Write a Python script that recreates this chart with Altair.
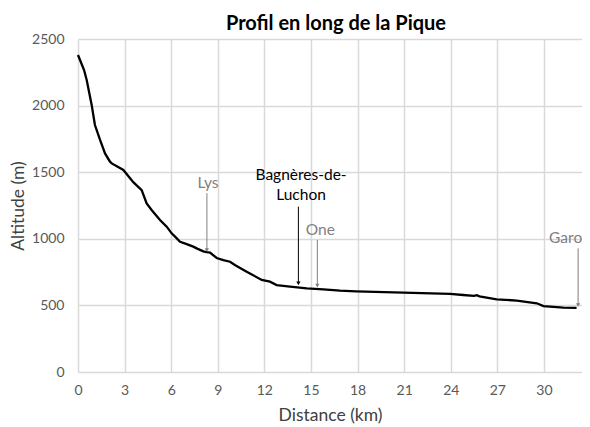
import altair as alt
import pandas as pd

# Profile data (km, m)
dist_km = [0, 0.39, 0.56, 0.88, 1.09, 1.42, 1.74, 2.06, 2.17, 2.5, 2.92, 3.56, 4.1, 4.42,
           4.74, 5.28, 5.71, 6.03, 6.36, 6.57, 7.0, 7.42, 7.64, 8.07, 8.29, 8.5, 8.93, 9.36,
           9.79, 10.1, 10.86, 11.83, 12.36, 12.79, 13.65, 14.73, 15.8, 16.87, 17.9, 20.95,
           23.95, 24.8, 25.5, 25.67, 25.85, 26.96, 28.25, 29.54, 29.97, 31.25, 32.1]
altitude_m = [2380, 2267, 2192, 2005, 1854, 1742, 1641, 1579, 1566, 1545, 1517, 1425, 1366, 1266,
              1216, 1141, 1091, 1041, 1003, 978, 960, 941, 928, 906, 900, 896, 856, 840,
              828, 803, 753, 691, 678, 653, 641, 628, 621, 611, 606, 596,
              586, 578, 572, 577, 568, 546, 536, 516, 495, 483, 482]

x_ticks = [0, 3, 6, 9, 12, 15, 18, 21, 24, 27, 30, 33]
y_ticks = [0, 500, 1000, 1500, 2000, 2500]

# Annotations
ann_names = ["Lys", "Bagnères-de-Luchon", "One", "Garonne"]
ann_arrow_x = [8.3, 14.19, 15.41, 32.2]
ann_arrow_top = [1342, 1241, 991, 928]
ann_arrow_tip = [916, 666, 648, 503]
ann_color = ["#7f7f7f", "#000000", "#7f7f7f", "#7f7f7f"]

lys_label = {"x": [8.37], "y": [1419], "t": ["Lys"]}
bag_label = {"x": [14.36, 14.36], "y": [1479, 1329], "t": ["Bagnères-de-", "Luchon"]}
one_label = {"x": [15.6], "y": [1066], "t": ["One"]}
gar_label = {"x": [30.33], "y": [1004], "t": ["Garonne"]}

FONT = "Lato"

df = pd.DataFrame({"d": dist_km, "a": altitude_m})
ann = pd.DataFrame({"name": ann_names, "x": ann_arrow_x, "top": ann_arrow_top,
                    "tip": ann_arrow_tip, "col": ann_color})

xscale = alt.Scale(domain=[0, 32.45], nice=False, zero=False)
yscale = alt.Scale(domain=[0, 2500], nice=False)

base_x = alt.X("d:Q", scale=xscale,
               axis=alt.Axis(title="Distance (km)", values=x_ticks, labelFlush=False))
base_y = alt.Y("a:Q", scale=yscale,
               axis=alt.Axis(title="Altitude (m)", values=y_ticks, format="d"))

line = alt.Chart(df).mark_line(color="#000000", strokeWidth=2.3, interpolate="linear").encode(
    x=base_x, y=base_y)

rules = alt.Chart(ann).mark_rule(strokeWidth=1).encode(
    x=alt.X("x:Q", scale=xscale),
    y=alt.Y("top:Q", scale=yscale),
    y2="tip:Q",
    color=alt.Color("col:N", scale=None))

heads = alt.Chart(ann).mark_point(shape="triangle-down", filled=True, size=18, opacity=1).encode(
    x=alt.X("x:Q", scale=xscale),
    y=alt.Y("tip:Q", scale=yscale),
    color=alt.Color("col:N", scale=None))


def label_layer(d, color, align="center"):
    return alt.Chart(pd.DataFrame(d)).mark_text(
        font=FONT, fontSize=15.5, color=color, align=align, baseline="middle").encode(
        x=alt.X("x:Q", scale=xscale), y=alt.Y("y:Q", scale=yscale), text="t:N")


labels = (label_layer(lys_label, "#7f7f7f") + label_layer(bag_label, "#000000")
          + label_layer(one_label, "#7f7f7f") + label_layer(gar_label, "#7f7f7f", "left"))

chart = alt.layer(line, rules, heads, labels).properties(
    width=504, height=333,
    title=alt.TitleParams("Profil en long de la Pique", font=FONT, fontSize=20,
                          fontWeight="bold", color="#000000", offset=-2, dx=6),
    autosize=alt.AutoSizeParams(type="none"),
    padding={"left": 70, "top": 31, "right": 0, "bottom": 55},
).configure_view(stroke=None).configure_axis(
    grid=True, gridColor="#d9d9d9", gridWidth=1.5, domain=False, ticks=False,
    labelFont=FONT, labelFontSize=14, labelColor="#595959",
    titleFont=FONT, titleFontSize=17.5, titleColor="#404040", titleFontWeight="normal",
).configure_axisX(labelPadding=11, titlePadding=9).configure_axisY(
    labelPadding=14, titlePadding=4)

chart.save("out.html", embed_options={"renderer": "svg", "actions": False})
